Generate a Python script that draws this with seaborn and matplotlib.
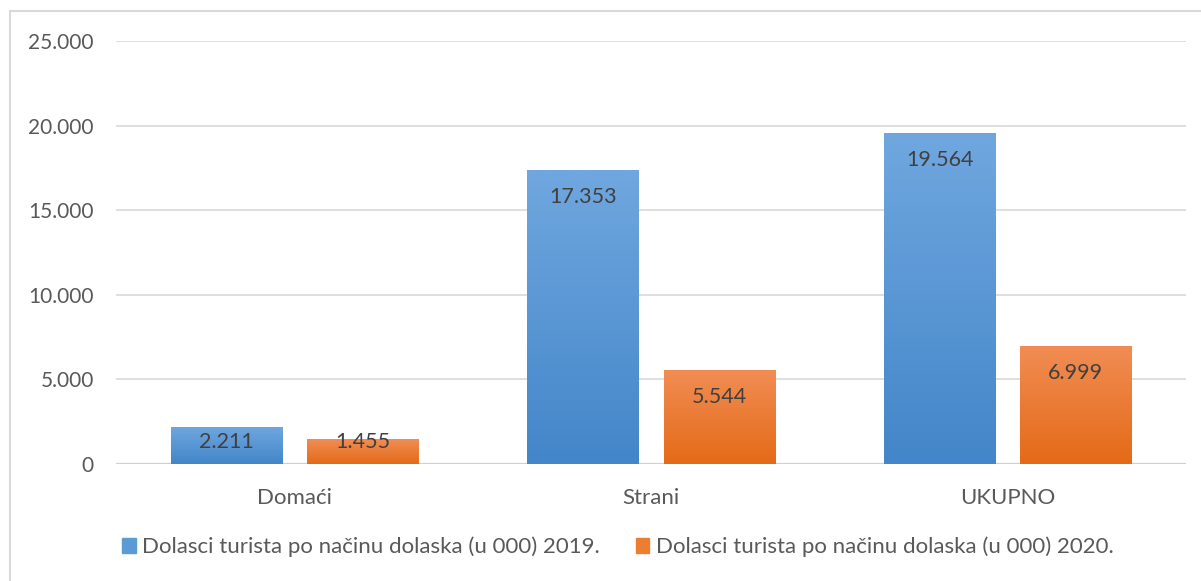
import numpy as np
import pandas as pd
import matplotlib.pyplot as plt
import matplotlib.patches as mpatches
from matplotlib.colors import LinearSegmentedColormap
import seaborn as sns

# podaci (u 000)
kategorije = ['Domaći', 'Strani', 'UKUPNO']
dolasci_2019 = [2211, 17353, 19564]
dolasci_2020 = [1455, 5544, 6999]
serije = ['Dolasci turista po načinu dolaska (u 000) 2019.',
          'Dolasci turista po načinu dolaska (u 000) 2020.']
y_ticks = [0, 5000, 10000, 15000, 20000, 25000]

df = pd.DataFrame({
    'Kategorija': kategorije * 2,
    'Vrijednost': dolasci_2019 + dolasci_2020,
    'Serija': [serije[0]] * 3 + [serije[1]] * 3,
})

sns.set_theme(style='white')
plt.rcParams['font.family'] = ['Lato', 'DejaVu Sans']
tekst = '#595959'

fig = plt.figure(figsize=(12.01, 5.81), dpi=100)
ax = fig.add_axes([116 / 1201, 1 - 464 / 581, 1070 / 1201, 423 / 581])

boje = {serije[0]: '#5B9BD5', serije[1]: '#ED7D31'}
sns.barplot(data=df, x='Kategorija', y='Vrijednost', hue='Serija', palette=boje,
            width=0.763, gap=0.184, legend=False, ax=ax)

ax.set_ylim(0, 25000)
ax.set_yticks(y_ticks)
ax.set_yticklabels([f'{v:,.0f}'.replace(',', '.') for v in y_ticks], fontsize=15, color=tekst)
ax.tick_params(axis='y', length=0, pad=16)
ax.tick_params(axis='x', length=0, pad=17, labelsize=16, labelcolor=tekst)
ax.set_xlabel('')
ax.set_ylabel('')
ax.grid(axis='y', color='#D9D9D9', linewidth=1.2)
ax.set_axisbelow(True)
for s in ax.spines.values():
    s.set_visible(False)
ax.axhline(0, color='#D0D0D0', linewidth=1.6, zorder=1)

# gradijent na stupcima
gradijenti = [LinearSegmentedColormap.from_list('b', ['#4386C9', '#70A7DF']),
              LinearSegmentedColormap.from_list('o', ['#E46A17', '#F18D54'])]
grad = np.linspace(0, 1, 256).reshape(-1, 1)
for cont, cmap in zip(ax.containers, gradijenti):
    for p in cont:
        x0, y0 = p.get_x(), p.get_y()
        w, h = p.get_width(), p.get_height()
        im = ax.imshow(grad, cmap=cmap, origin='lower', aspect='auto',
                       extent=[x0, x0 + w, y0, y0 + h], zorder=3)
        im.set_clip_path(p)
        p.set_alpha(0)
ax.set_xlim(-0.5, 2.5)
ax.set_ylim(0, 25000)

# oznake vrijednosti
fig.canvas.draw()
for cont in ax.containers:
    for p in cont:
        v = p.get_height()
        h_px = ax.transData.transform((0, v))[1] - ax.transData.transform((0, 0))[1]
        off = max(0, min(27, h_px - 22))
        ax.annotate(f'{v:,.0f}'.replace(',', '.'), (p.get_x() + p.get_width() / 2, v),
                    xytext=(0, -off), textcoords='offset pixels', ha='center', va='center',
                    fontsize=15.5, color='#404040', zorder=5)

# legenda
ruckice = [mpatches.Patch(color=boje[s], label=s) for s in serije]
fig.legend(handles=ruckice, loc='center', bbox_to_anchor=(618 / 1201, 1 - 547 / 581), ncol=2,
           frameon=False, fontsize=16, labelcolor=tekst, handlelength=0.6, handleheight=0.6,
           handletextpad=0.3, columnspacing=1.6)

# okvir
fig.add_artist(mpatches.Rectangle((10 / 1201, -0.1), 1.2, 1.1 - 11 / 581, transform=fig.transFigure,
                                  fill=False, edgecolor='#D9D9D9', linewidth=1.5))

fig.savefig('out.png', dpi=100)
